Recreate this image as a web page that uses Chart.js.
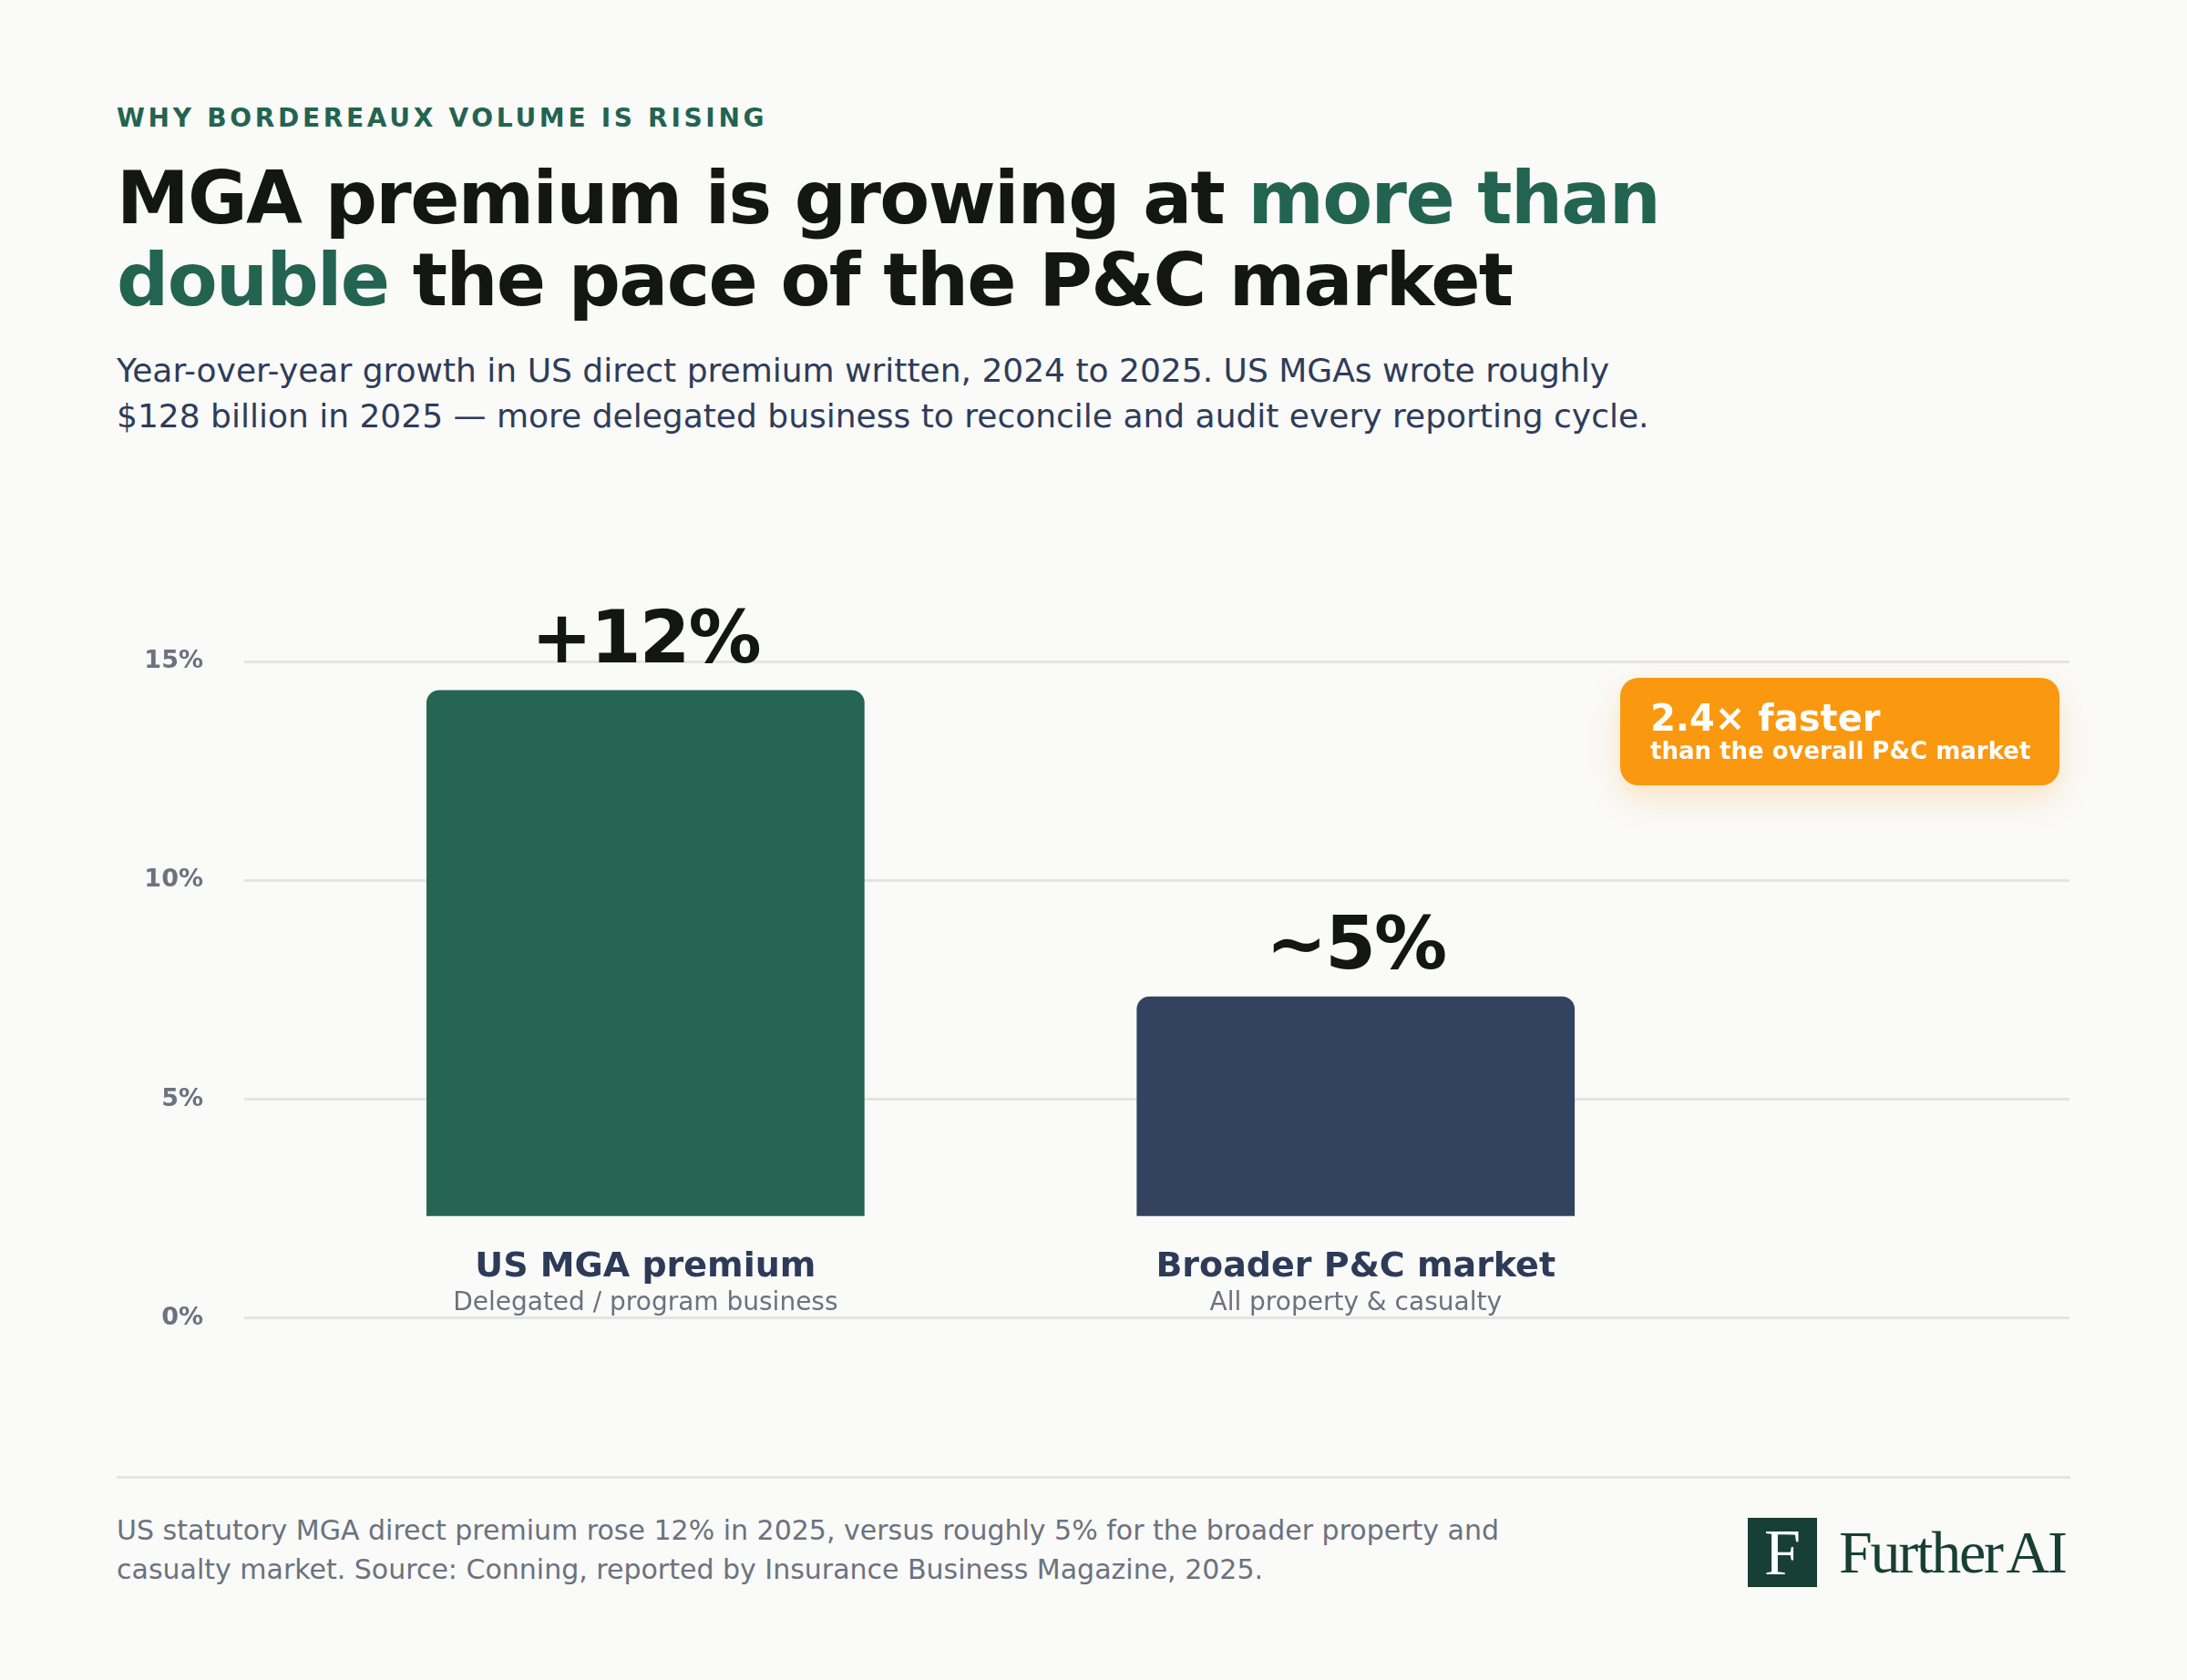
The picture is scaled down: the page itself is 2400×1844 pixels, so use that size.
<!DOCTYPE html>
<html>
<head>
<meta charset="utf-8">
<script src="https://cdn.jsdelivr.net/npm/chart.js@4.4.1/dist/chart.umd.min.js"></script>
<style>
  html, body { margin: 0; padding: 0; }
  body {
    width: 2400px; height: 1844px; position: relative; overflow: hidden;
    background: #fafaf8; font-family: "DejaVu Sans", sans-serif;
  }
  .abs { position: absolute; white-space: nowrap; }
  #eyebrow { left: 128px; top: 116px; font-size: 28px; line-height: 28px; font-weight: bold;
    letter-spacing: 3.7px; color: #236450; }
  #title { left: 128px; top: 173px; font-size: 80px; line-height: 90px; font-weight: bold;
    letter-spacing: -1.6px; color: #141612; }
  #title .hl { color: #236450; }
  #subtitle { left: 128px; top: 382px; font-size: 36px; line-height: 50px; color: #2e3c5a; }
  #chartBox { position: absolute; left: 0; top: 600px; width: 2400px; height: 908px; }
  #badge { left: 1778px; top: 744px; width: 482px; height: 118px; background: #fa980f;
    border-radius: 20px; box-shadow: 0 14px 34px rgba(250, 152, 15, 0.22); color: #fff; }
  #badge .big { position: absolute; left: 33px; top: 24px; font-size: 40px; line-height: 40px; font-weight: bold; }
  #badge .small { position: absolute; left: 33px; top: 67px; font-size: 26px; line-height: 26px; font-weight: bold; }
  #rule { left: 128px; top: 1620px; width: 2144px; height: 3px; background: #e6e6e0; }
  #note { left: 128px; top: 1658px; font-size: 30px; line-height: 43px; color: #6b7280; }
  #logoMark { left: 1918px; top: 1666px; width: 76px; height: 76px; background: #173f35; color: #fff;
    font-family: "Liberation Serif", serif; font-size: 72px; line-height: 76px; text-align: center; }
  #logoText { left: 2018px; top: 1668px; font-family: "Liberation Serif", serif; font-size: 66px;
    line-height: 72px; letter-spacing: -2.2px; word-spacing: -6px; color: #173f35; }
</style>
</head>
<body>
<div class="abs" id="eyebrow">WHY BORDEREAUX VOLUME IS RISING</div>
<div class="abs" id="title">MGA premium is growing at <span class="hl">more than</span><br><span class="hl">double</span> the pace of the P&amp;C market</div>
<div class="abs" id="subtitle">Year-over-year growth in US direct premium written, 2024 to 2025. US MGAs wrote roughly<br>$128 billion in 2025 — more delegated business to reconcile and audit every reporting cycle.</div>

<div id="chartBox"><canvas id="myChart"></canvas></div>

<div class="abs" id="badge"><span class="big">2.4× faster</span><span class="small">than the overall P&amp;C market</span></div>

<div class="abs" id="rule"></div>
<div class="abs" id="note">US statutory MGA direct premium rose 12% in 2025, versus roughly 5% for the broader property and<br>casualty market. Source: Conning, reported by Insurance Business Magazine, 2025.</div>
<div class="abs" id="logoMark">F</div>
<div class="abs" id="logoText">Further AI</div>

<script>
// dados do gráfico
const categories = ['US MGA premium', 'Broader P&C market'];
const subLabels = ['Delegated / program business', 'All property & casualty'];
const growth = [12, 5];
const valueLabels = ['+12%', '~5%'];
const yTicks = [0, 5, 10, 15];

// as barras flutuam acima do 0% para deixar espaço aos rótulos
const BAR_BASE = 2.34;
const barColors = ['#256551', '#33425f'];

const ctx = document.getElementById('myChart').getContext('2d');

// rótulos de valor acima das barras e nomes das categorias abaixo
const barLabels = {
  id: 'barLabels',
  afterDatasetsDraw(chart) {
    const c = chart.ctx;
    const area = chart.chartArea;
    chart.getDatasetMeta(0).data.forEach((bar, i) => {
      c.save();
      c.textAlign = 'center';
      c.textBaseline = 'alphabetic';

      c.fillStyle = '#141612';
      c.font = 'bold 80px "DejaVu Sans"';
      c.letterSpacing = '-2px';
      c.fillText(valueLabels[i], bar.x, bar.y - 31);

      c.letterSpacing = '0px';
      c.fillStyle = '#2d3b58';
      c.font = 'bold 38px "DejaVu Sans"';
      c.fillText(categories[i], bar.x, area.bottom - 46);

      c.fillStyle = '#6b7280';
      c.font = '28px "DejaVu Sans"';
      c.fillText(subLabels[i], bar.x, area.bottom - 9);
      c.restore();
    });
  }
};

const data = {
  datasets: [{
    data: growth.map((v, i) => ({ x: i, y: [BAR_BASE, BAR_BASE + v] })),
    backgroundColor: barColors,
    borderWidth: 0,
    borderRadius: { topLeft: 14, topRight: 14, bottomLeft: 0, bottomRight: 0 },
    borderSkipped: false,
    barThickness: 480,
  }]
};

const config = {
  type: 'bar',
  data: data,
  options: {
    responsive: true,
    maintainAspectRatio: false,
    animation: false,
    devicePixelRatio: 1,
    layout: { padding: { top: 126, bottom: 48, left: 0, right: 129 } },
    plugins: { legend: { display: false }, tooltip: { enabled: false } },
    scales: {
      x: {
        type: 'linear',
        display: false,
        offset: false,
        min: -0.565,
        max: 2.005,
      },
      y: {
        min: 0,
        max: 15,
        afterBuildTicks: s => { s.ticks = yTicks.map(v => ({ value: v })); },
        afterFit: s => { s.width = 268; },
        border: { display: false },
        grid: { color: '#e5e5e0', lineWidth: 3, drawTicks: false },
        ticks: {
          padding: 45,
          color: '#6b7280',
          font: { family: 'DejaVu Sans', size: 27, weight: 'bold' },
          callback: v => v + '%',
        },
      },
    },
  },
  plugins: [barLabels],
};

let myChart = new Chart(ctx, config);
</script>
</body>
</html>
